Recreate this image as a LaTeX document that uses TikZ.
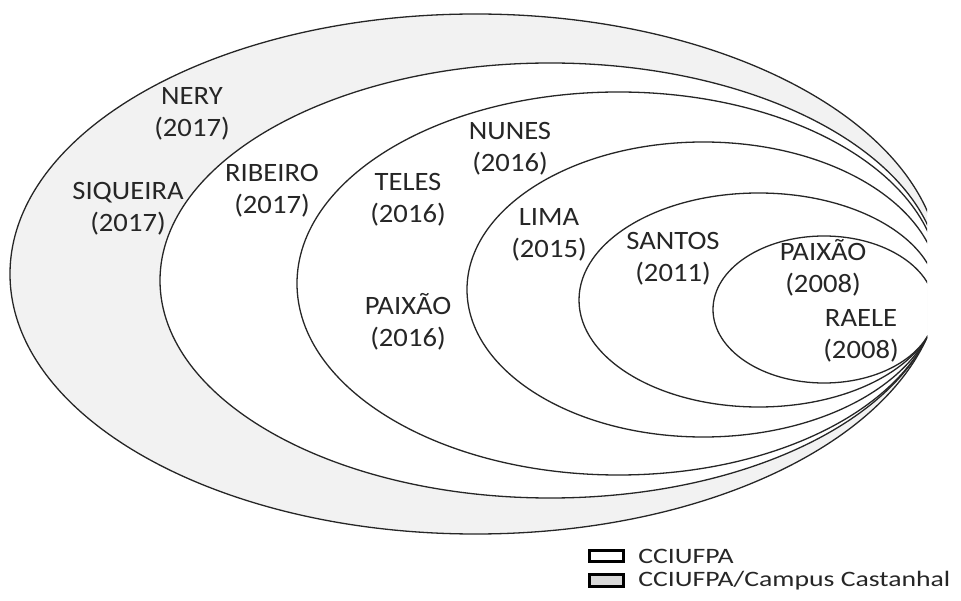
\documentclass[tikz,border=0pt]{standalone}
\usepackage{fontspec}
\setmainfont{Carlito}
\definecolor{ringline}{HTML}{262626}
\definecolor{ringgray}{HTML}{F2F2F2}
\definecolor{keygray}{HTML}{D9D9D9}
\tikzset{
  ring/.style={draw=ringline, line width=1.3pt},
  lbl/.style={font=\fontsize{26.5}{32}\selectfont, text=ringline, align=center, inner sep=0pt, xscale=1.08},
  keybox/.style={draw=black, line width=2.6pt},
  keytext/.style={font=\fontsize{22}{25}\selectfont, text=ringline, anchor=west, inner sep=0pt, xscale=1.26},
}
\begin{document}
\begin{tikzpicture}[x=1pt, y=-1pt]
\useasboundingbox (0,0) rectangle (961,601);
% nested groups, cut off on the right
\begin{scope}
  \clip (0,0) rectangle (927,545);
  \path[ring, fill=ringgray] (475.5,274) ellipse [x radius=465.5pt, y radius=260pt];
  \path[ring, fill=white] (550.2,280.5) ellipse [x radius=390.2pt, y radius=217.5pt];
  \path[ring, fill=white] (618.4,283.5) ellipse [x radius=321.4pt, y radius=191.5pt];
  \path[ring, fill=white] (703.3,289.5) ellipse [x radius=236.3pt, y radius=147.5pt];
  \path[ring, fill=white] (758.6,300) ellipse [x radius=179.6pt, y radius=107pt];
  \path[ring, fill=white] (824,309.5) ellipse [x radius=111pt, y radius=73.5pt];
\end{scope}
% authors and years
\node[lbl] (nery) at (192,113.5) {NERY\\(2017)};
\node[lbl] (siqueira) at (128,208.5) {SIQUEIRA\\(2017)};
\node[lbl] (ribeiro) at (272,191) {RIBEIRO\\(2017)};
\node[lbl] (teles) at (408,199.5) {TELES\\(2016)};
\node[lbl] (paixao16) at (408,321.5) {PAIXÃO\\(2016)};
\node[lbl] (nunes) at (510,149) {NUNES\\(2016)};
\node[lbl] (lima) at (549,234.5) {LIMA\\(2015)};
\node[lbl] (santos) at (673,259) {SANTOS\\(2011)};
\node[lbl] (paixao08) at (823,267.5) {PAIXÃO\\(2008)};
\node[lbl] (raele) at (861,336) {RAELE\\(2008)};
% key
\draw[keybox, fill=white] (589.5,550.5) rectangle (623.5,561.5);
\draw[keybox, fill=keygray] (589.5,574.5) rectangle (623.5,586.5);
\node[keytext] (k1) at (638,556.5) {CCIUFPA};
\node[keytext] (k2) at (638,580.5) {CCIUFPA/Campus Castanhal};
\end{tikzpicture}
\end{document}
